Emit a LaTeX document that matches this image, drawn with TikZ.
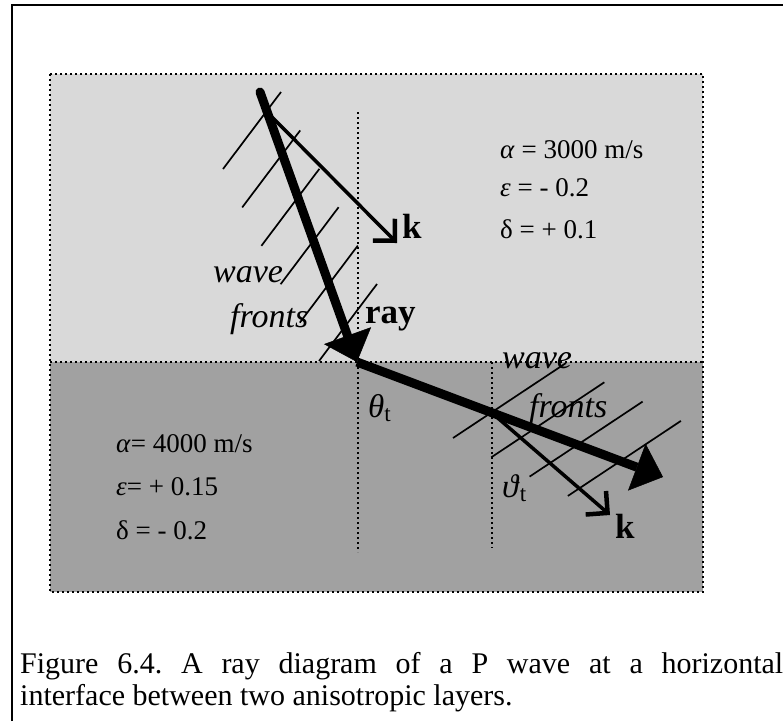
\documentclass[tikz,border=0pt]{standalone}
\usepackage{fontspec}
\setmainfont{Liberation Serif}
\usetikzlibrary{arrows.meta,positioning}
\definecolor{upperlayer}{gray}{0.85}
\definecolor{lowerlayer}{gray}{0.63}
\tikzset{
  >=Latex,
  figframe/.style={line width=2pt},
  dotline/.style={line width=1.6pt, dash pattern=on 2pt off 3pt},
  rayarrow/.style={line width=9pt, -{Triangle[length=28pt,width=50pt,line width=0.5pt]}},
  kvec/.style={line width=3.5pt, -{Straight Barb[angle=90:22pt,line width=4.5pt]}},
  front/.style={line width=1.7pt},
  param/.style={font=\fontsize{27}{31}\selectfont, anchor=base west, inner sep=0pt},
  wavelbl/.style={font=\fontsize{34}{38}\selectfont\itshape, anchor=base west, inner sep=0pt},
  boldlbl/.style={font=\fontsize{35}{38}\selectfont\bfseries, anchor=base west, inner sep=0pt},
  anglelbl/.style={font=\fontsize{33}{36}\selectfont, anchor=base west, inner sep=0pt}
}

\begin{document}
\begin{tikzpicture}[x=1pt, y=-1pt]
\useasboundingbox (0,0) rectangle (783,721);

% 1 : Cadre
\draw[figframe] (12,721) -- (12,5) -- (783,5);

% 2 : Couches
\fill[upperlayer] (50,74) rectangle (703,362);
\fill[lowerlayer] (50,362) rectangle (703,592);
\draw[dotline] (50,74) rectangle (703,592);
\draw[dotline] (50,362) -- (703,362);

% 3 : Normales
\draw[dotline] (358,112) -- (358,552);
\draw[dotline] (492,362) -- (492,548);

% 4 : Fronts d'onde
\foreach \i in {0,...,5}
  \draw[front, shift={(\i*19.2,\i*38.4)}] (223,169) -- ++(58,-77);
\foreach \i in {0,...,3}
  \draw[front, shift={(\i*38.3,\i*19.3)}] (453,438) -- ++(113,-75);

% 5 : Textes
\node[wavelbl] (wave1) at (213,282) {wave};
\node[wavelbl] (fronts1) at (230,327) {fronts};
\node[wavelbl] (wave2) at (502,368) {wave};
\node[wavelbl] (fronts2) at (529,417) {fronts};
\node[boldlbl] (raylbl) at (365,323) {ray};
\node[boldlbl] (k1) at (402,238) {k};
\node[boldlbl] (k2) at (615,538) {k};
\node[anglelbl] (thetat) at (368,417) {\textit{θ}\textsubscript{t}};
\node[anglelbl] (varthetat) at (502,497) {\textit{ϑ}\textsubscript{t}};

% 6 : Paramètres
\node[param] (alpha1) at (500,158) {\textit{α} = 3000 m/s};
\node[param, below=38pt of alpha1.base west, anchor=base west] (eps1) {\textit{ε} = - 0.2};
\node[param, below=42pt of eps1.base west, anchor=base west] (delta1) {δ = + 0.1};
\node[param] (alpha2) at (116,452) {\textit{α}= 4000 m/s};
\node[param, below=43pt of alpha2.base west, anchor=base west] (eps2) {\textit{ε}= + 0.15};
\node[param, below=44pt of eps2.base west, anchor=base west] (delta2) {δ = - 0.2};

% 7 : Rayons et vecteurs k
\coordinate (src) at (260,92);
\coordinate (hit) at (357,362);
\coordinate (out) at (663,477);
\coordinate (k1start) at (267,112);
\coordinate (k1end) at (397,243);
\coordinate (k2start) at (492,413);
\coordinate (k2end) at (610,515);
\draw[rayarrow, line cap=round] (src) -- (hit);
\draw[rayarrow] (hit) -- (out);
\draw[kvec] (k1start) -- (k1end);
\draw[kvec] (k2start) -- (k2end);

% 8 : Légende
\node[font=\fontsize{30}{32}\selectfont\frenchspacing, anchor=base west, inner sep=0pt,
      text width=763pt, align=justify] (caption) at (20,673)
  {Figure 6.4. A ray diagram of a P wave at a horizontal\linebreak
   interface between two anisotropic layers.};
\end{tikzpicture}
\end{document}
